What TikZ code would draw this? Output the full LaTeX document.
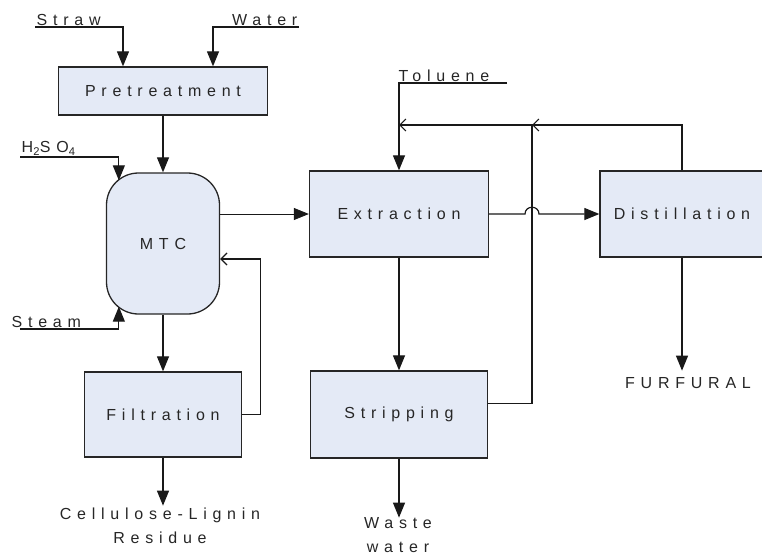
\documentclass[tikz,border=0pt]{standalone}
\usepackage{fontspec}
\setmainfont{Liberation Sans}[LetterSpace=36]
\usetikzlibrary{positioning, arrows.meta, calc}
\definecolor{unitBlue}{RGB}{228,234,246}
\tikzset{
	unitbox/.style={rectangle, draw=black!85, fill=unitBlue, line width=1.3pt,
		align=center, font=\fontsize{16}{20}\selectfont, text=black!85, inner sep=0pt},
	reactorbox/.style={unitbox, rounded corners=32pt},
	flowarr/.style={-{Triangle[length=15pt, width=12pt]}, line width=1.2pt, draw=black!90},
	recyarr/.style={-{Straight Barb[length=6pt, width=12pt]}, line width=1.2pt, draw=black!90},
	streamlabel/.style={font=\fontsize{16}{24}\selectfont, align=center, inner sep=1.5pt, text=black!85}
}
\begin{document}
\begin{tikzpicture}[x=1pt, y=-1pt]
			\useasboundingbox (0,0) rectangle (762,559);
			% process units
			\node[unitbox, minimum width=209pt, minimum height=48pt] (pretreat) at (163,91) {Pretreatment};
			\node[reactorbox, minimum width=113pt, minimum height=141pt] (mtc) at (163,243.5) {MTC};
			\node[unitbox, minimum width=157pt, minimum height=85pt] (filtr) at (163,414.5) {Filtration};
			\node[unitbox, minimum width=179pt, minimum height=86pt] (extract) at (399,214) {Extraction};
			\node[unitbox, minimum width=177pt, minimum height=87pt] (strip) at (399,414.5) {Stripping};
			\node[unitbox, minimum width=164pt, minimum height=86pt] (distill) at (682,214) {Distillation};
			% feed streams
			\node[streamlabel, anchor=south west] (straw) at (35,27) {Straw};
			\node[streamlabel, anchor=south east] (water) at (299,27) {Water};
			\node[streamlabel, anchor=south west] (acid) at (20,157) {H\textsubscript{2}SO\textsubscript{4}};
			\node[streamlabel, anchor=south west] (steam) at (10,329) {Steam};
			\coordinate (steamstart) at (20,329);
			\node[streamlabel, anchor=south west] (toluene) at (397,83) {Toluene};
			\coordinate (tolstart) at (507,83);
			\coordinate (riser) at (532,125);
			% products
			\coordinate[below=48pt of filtr.south] (residend);
			\node[streamlabel, below=1pt of residend, xshift=-3pt] (residue) {Cellulose-Lignin\\Residue};
			\coordinate[below=59pt of strip.south] (wasteend);
			\node[streamlabel, below=-2pt of wasteend, xshift=-1pt] (waste) {Waste\\water};
			\coordinate[below=113pt of distill.south] (furfend);
			\node[streamlabel, below=5pt of furfend, xshift=6pt] (furfural) {FURFURAL};
			% connections
			\draw[flowarr] (pretreat) -- (mtc);
			\draw[flowarr] (straw.south west) -| ([xshift=-40pt]pretreat.north);
			\draw[flowarr] (water.south east) -| ([xshift=50pt]pretreat.north);
			\draw[flowarr] (acid.south west) -| ([xshift=13pt, yshift=-8pt]mtc.north west);
			\draw[flowarr] (steamstart) -| ([xshift=13pt, yshift=8pt]mtc.south west);
			\draw[flowarr, line width=0.9pt] (mtc.east |- extract.west) -- (extract.west);
			\draw[flowarr] (mtc) -- (filtr);
			\draw[recyarr] (filtr.east) -- ++(18,0) |- ([yshift=-15.5pt]mtc.east);
			\draw[flowarr] (filtr.south) -- (residend);
			\draw[flowarr] (tolstart) -| (extract.north);
			\draw[flowarr] (extract.east) -- ($(riser |- extract.east)+(-7,0)$)
				.. controls +(0,-9) and +(0,-9) .. ($(riser |- extract.east)+(7,0)$) -- (distill.west);
			\draw[flowarr] (extract) -- (strip);
			\draw[flowarr] (strip.south) -- (wasteend);
			\draw[flowarr] (distill.south) -- (furfend);
			\draw[recyarr] (distill.north) |- (riser);
			\draw[recyarr] ([yshift=11pt]strip.east) -| (riser) -- (extract.north |- riser);
		\end{tikzpicture}
\end{document}
